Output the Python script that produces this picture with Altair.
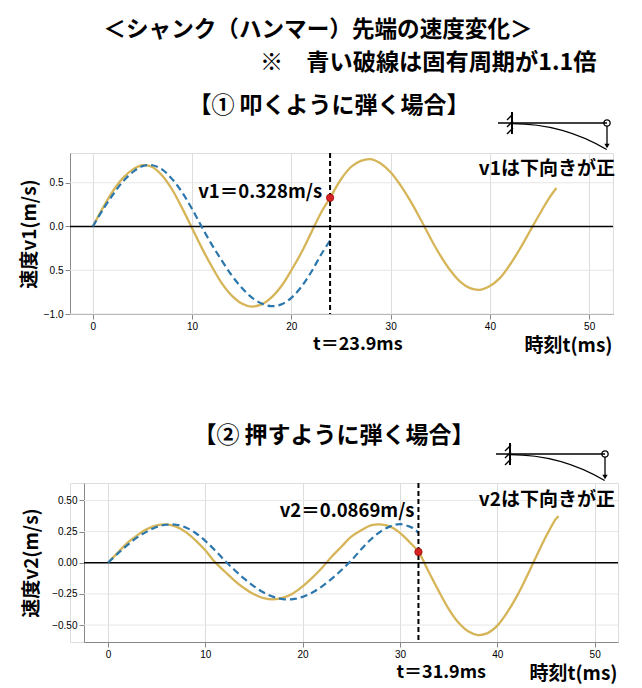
import math
import altair as alt
import pandas as pd

# ---------------- data ----------------
# top panel: 叩くように弾く場合
t_top_yellow = [0, 1, 2, 3, 4, 5, 6, 7, 8, 9, 10, 11, 12, 13, 14, 15, 16, 17, 18, 19, 20,
                21, 22, 23, 23.9, 25, 26, 27, 28, 29, 30, 31, 32, 33, 34, 35, 36, 37, 38,
                39, 40, 41, 42, 43, 44, 45, 46, 46.7]
v_top_yellow = [0, 0.21, 0.40, 0.55, 0.65, 0.70, 0.68, 0.58, 0.42, 0.21, -0.02, -0.25,
                -0.46, -0.65, -0.79, -0.88, -0.915, -0.89, -0.81, -0.68, -0.50, -0.30,
                -0.07, 0.16, 0.328, 0.54, 0.68, 0.75, 0.77, 0.72, 0.62, 0.47, 0.29, 0.085,
                -0.13, -0.33, -0.50, -0.63, -0.705, -0.724, -0.68, -0.59, -0.44, -0.26,
                -0.06, 0.14, 0.33, 0.44]
t_top_blue = [0, 1, 2, 3, 4, 5, 6, 7, 8, 9, 10, 11, 12, 13, 14, 15, 16, 17, 18, 19, 20,
              21, 22, 23, 23.9]
v_top_blue = [0, 0.19, 0.36, 0.51, 0.62, 0.69, 0.70, 0.65, 0.54, 0.39, 0.20, -0.01, -0.21,
              -0.39, -0.56, -0.70, -0.81, -0.88, -0.91, -0.89, -0.815, -0.69, -0.52,
              -0.32, -0.16]

# bottom panel: 押すように弾く場合
t_bot_yellow = [0, 1, 2, 3, 4, 5, 6, 7, 8, 9, 10, 11, 12, 13, 14, 15, 16, 17, 18, 19, 20,
                21, 22, 23, 24, 25, 26, 27, 28, 29, 30, 31, 31.9, 33, 34, 35, 36, 37, 38,
                39, 40, 41, 42, 43, 44, 45, 46, 46.3]
v_bot_yellow = [0, 0.08, 0.16, 0.22, 0.27, 0.30, 0.308, 0.29, 0.246, 0.18, 0.10, 0.005,
                -0.07, -0.143, -0.205, -0.253, -0.284, -0.294, -0.28, -0.246, -0.19,
                -0.12, -0.04, 0.05, 0.13, 0.21, 0.26, 0.30, 0.308, 0.29, 0.24, 0.165,
                0.0869, -0.08, -0.23, -0.37, -0.48, -0.55, -0.58, -0.565, -0.505, -0.40,
                -0.27, -0.115, 0.05, 0.21, 0.35, 0.375]
t_bot_blue = [0, 1, 2, 3, 4, 5, 6, 7, 8, 9, 10, 11, 12, 13, 14, 15, 16, 17, 18, 19, 20,
              21, 22, 23, 24, 25, 26, 27, 28, 29, 30, 31, 31.5, 31.9]
v_bot_blue = [0, 0.073, 0.142, 0.203, 0.25, 0.287, 0.305, 0.305, 0.283, 0.239, 0.176,
              0.10, 0.017, -0.058, -0.128, -0.189, -0.239, -0.274, -0.292, -0.292,
              -0.274, -0.239, -0.189, -0.128, -0.058, 0.018, 0.107, 0.187, 0.25, 0.292,
              0.31, 0.29, 0.27, 0.24]

x_ticks = [0, 10, 20, 30, 40, 50]
y_ticks_top = [-1.0, -0.5, 0.0, 0.5]
y_ticks_bot = [-0.5, -0.25, 0.0, 0.25, 0.5]

release_top, v_release_top = 23.9, 0.328
release_bot, v_release_bot = 31.9, 0.0869

main_title = "＜シャンク（ハンマー）先端の速度変化＞"
sub_title = "※　青い破線は固有周期が1.1倍"
panel_title_top = "【① 叩くように弾く場合】"
panel_title_bot = "【② 押すように弾く場合】"

# ---------------- style ----------------
JP = "Noto Sans CJK JP"
YEL = "#D5B558"
BLU = "#2B77AD"
GRID = "#e6e6e6"
one = pd.DataFrame({"k": [0]})


def txt(text, x, y, size, align="center"):
    return alt.Chart(one).mark_text(
        text=text, font=JP, fontSize=size, fontWeight="bold", color="black",
        align=align, baseline="middle"
    ).encode(x=alt.value(x), y=alt.value(y))


def seg(x1, y1, x2, y2, w=1.2):
    return alt.Chart(one).mark_rule(color="black", strokeWidth=w).encode(
        x=alt.value(x1), x2=alt.value(x2), y=alt.value(y1), y2=alt.value(y2))


def diagram(wall, by, tip, drop=26):
    R = ((tip - wall) ** 2 + drop ** 2) / (2 * drop)
    th = math.asin((tip - wall) / R)
    layers = [
        seg(wall - 14, by, tip, by, 1.3),
        seg(wall, by - 11, wall, by + 11, 2),
    ]
    for yy in (by - 7, by, by + 7):
        layers.append(seg(wall - 5, yy + 4, wall + 1, yy - 2, 1.3))
    layers.append(alt.Chart(one).mark_arc(
        radius=R, radius2=R - 1.3, theta=0, theta2=th, color="black"
    ).encode(x=alt.value(wall), y=alt.value(by + R)))
    layers.append(seg(tip, by + 3, tip, by + drop - 3, 1.3))
    layers.append(alt.Chart(one).mark_point(
        shape="triangle-down", filled=True, size=28, color="black", opacity=1
    ).encode(x=alt.value(tip), y=alt.value(by + drop - 3)))
    layers.append(alt.Chart(one).mark_point(
        shape="circle", filled=False, size=40, color="black", strokeWidth=1.3, opacity=1
    ).encode(x=alt.value(tip), y=alt.value(by)))
    return layers


def panel(W, H, xoff, xdom, ydom, yticks, ylabel_expr, ytitle, title_pad,
          ty, vy, tb, vb, t_rel, v_rel, vlabel, vlabel_v, vlabel_dx,
          tlabel, tlabel_dx, extra):
    # xoff: pixels between the group's left edge and the start of the plotted range
    GW = W + xoff
    xs = alt.Scale(domain=xdom, nice=False, zero=False, range=[xoff, GW])
    ys = alt.Scale(domain=ydom, nice=False, zero=False)
    xa = alt.Axis(values=x_ticks, grid=True, title="時刻t(ms)", titleFont=JP,
                  titleFontSize=19, titleFontWeight="bold", titleColor="black",
                  titleAlign="right", titleAnchor="end", titleX=GW - 1, titleY=31,
                  titleBaseline="middle", labelOverlap=False)
    ya = alt.Axis(values=yticks, grid=False, title=ytitle, titleFont=JP,
                  titleFontSize=19, titleFontWeight="bold", titleColor="black",
                  titlePadding=title_pad, labelExpr=ylabel_expr, labelOverlap=False,
                  offset=-xoff)
    X = alt.X("t:Q", scale=xs, axis=xa)
    Y = alt.Y("v:Q", scale=ys, axis=ya)
    dy = pd.DataFrame({"t": ty, "v": vy})
    db = pd.DataFrame({"t": tb, "v": vb})
    yellow = alt.Chart(dy).mark_line(color=YEL, strokeWidth=2.3,
                                     interpolate="catmull-rom").encode(x=X, y=Y)
    hgrid = alt.Chart(pd.DataFrame({"v": yticks})).mark_rule(
        color=GRID, strokeWidth=1).encode(y=Y, x=alt.value(xoff), x2=alt.value(GW))
    blue = alt.Chart(db).mark_line(color=BLU, strokeWidth=2.2, strokeDash=[7, 4],
                                   interpolate="catmull-rom").encode(x=X, y=Y)
    zero = alt.Chart(pd.DataFrame({"v": [0]})).mark_rule(
        color="black", strokeWidth=1.4).encode(y=Y, x=alt.value(xoff), x2=alt.value(GW))
    vline = alt.Chart(pd.DataFrame({"t": [t_rel]})).mark_rule(
        color="black", strokeWidth=2, strokeDash=[5, 3]).encode(x=X)
    dot = alt.Chart(pd.DataFrame({"t": [t_rel], "v": [v_rel]})).mark_circle(
        color="#D62222", size=55, opacity=1, stroke="#A01010", strokeWidth=0.8
    ).encode(x=X, y=Y)
    vtxt = alt.Chart(pd.DataFrame({"t": [t_rel], "v": [vlabel_v]})).mark_text(
        text=vlabel, font=JP, fontSize=18.5, fontWeight="bold", color="black",
        align="right", baseline="middle", dx=vlabel_dx
    ).encode(x=X, y=Y)
    ttxt = alt.Chart(pd.DataFrame({"t": [t_rel]})).mark_text(
        text=tlabel, font=JP, fontSize=18, fontWeight="bold", color="black",
        align="left", baseline="middle", dx=tlabel_dx
    ).encode(x=X, y=alt.value(H + 31))
    layers = [hgrid, yellow, zero, blue, vline, dot, vtxt, ttxt] + extra
    return alt.layer(*layers).properties(width=GW, height=H)


# top panel: plot left edge is the group origin
top_extra = [
    txt(main_title, 248, -123, 22.6),
    txt(sub_title, 190, -90, 23.2, align="left"),
    txt(panel_title_top, 259, -47, 23),
    txt("v1は下向きが正", 545, 16, 19, align="right"),
] + diagram(442, -30, 537)

# bottom panel: its plotted range starts 14 px right of the group origin
OFF = 14
bot_extra = [
    txt(panel_title_bot, OFF + 250, -47, 23),
    txt("v2は下向きが正", OFF + 531, 17, 19, align="right"),
] + diagram(OFF + 426, -29, OFF + 521)

top = panel(543, 161, 0, [-2.3, 52.4], [-1.0, 0.84], y_ticks_top,
            "datum.value == -0.5 ? '0.5' : format(datum.value, '.1f')", "速度v1(m/s)", 4,
            t_top_yellow, v_top_yellow, t_top_blue, v_top_blue,
            release_top, v_release_top, "v1＝0.328m/s", 0.39, -8,
            "t＝23.9ms", -17, top_extra)

bot = panel(534, 159, OFF, [-2.46, 52.4], [-0.636, 0.64], y_ticks_bot,
            "format(datum.value, '.2f')", "速度v2(m/s)", 10,
            t_bot_yellow, v_bot_yellow, t_bot_blue, v_bot_blue,
            release_bot, v_release_bot, "v2＝0.0869m/s", 0.415, -4,
            "t＝31.9ms", -22, bot_extra)

chart = alt.vconcat(top, bot, spacing=68).properties(
    padding={"left": 11, "top": 10, "right": 5, "bottom": 5}
).configure_view(stroke=None).configure_axis(
    domainColor="#555555", domainWidth=1.6, tickColor="#555555", tickSize=3,
    gridColor=GRID, gridWidth=1, labelColor="#4d4d4d", labelFont="DejaVu Sans",
    labelFontSize=13, labelPadding=1
).configure(background="white")

chart.save("out.html", embed_options={"renderer": "svg", "actions": False})
